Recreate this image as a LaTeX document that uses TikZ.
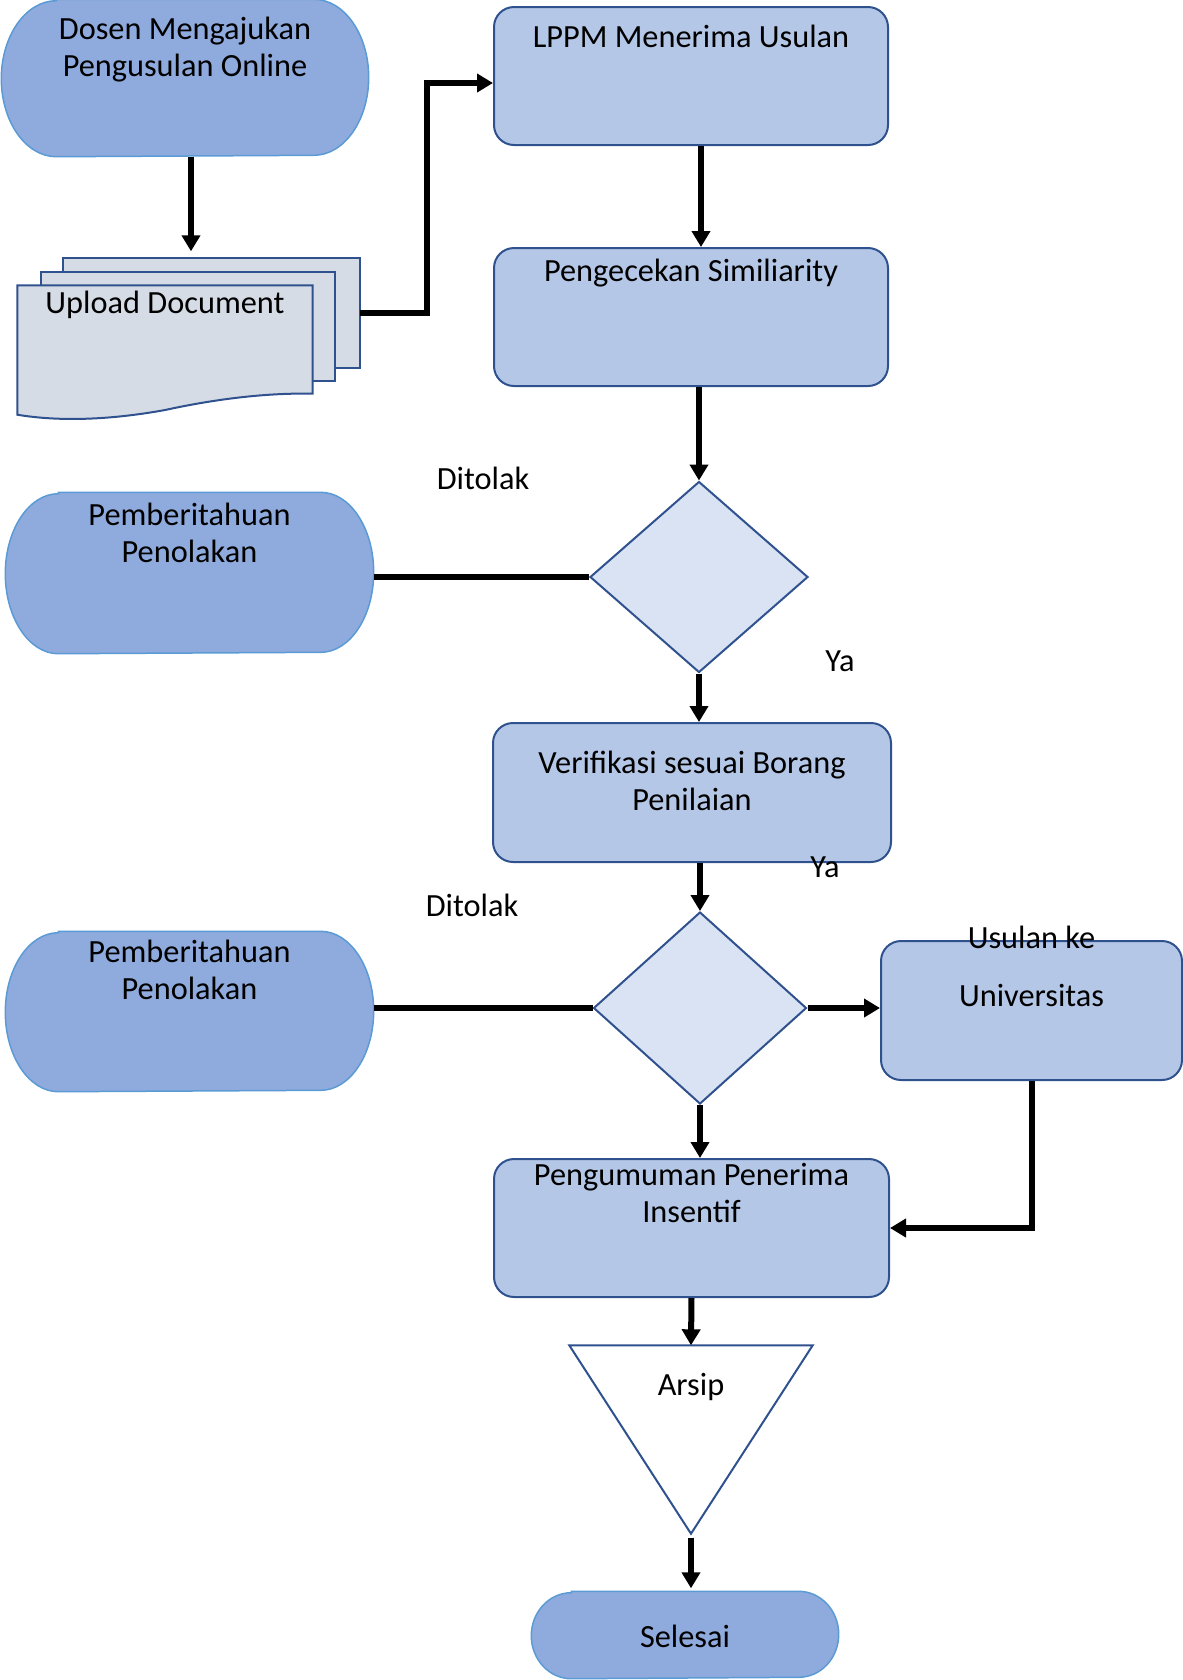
\documentclass[tikz,border=0pt]{standalone}
\usepackage{fontspec}
\setmainfont{Carlito}
\usepackage{tikz}
\usetikzlibrary{arrows.meta}
\usetikzlibrary{shapes.geometric}
\usetikzlibrary{backgrounds}

\definecolor{termfill}{HTML}{8FAADC}
\definecolor{termline}{HTML}{5B9BD5}
\definecolor{boxfill}{HTML}{B4C7E7}
\definecolor{boxline}{HTML}{2F528F}
\definecolor{decfill}{HTML}{DAE3F3}
\definecolor{docfill}{HTML}{D6DCE5}

\tikzset{
  txt/.style n args={3}{minimum width=#1, text width=#1-4mm, text height=#2, text depth=#3},
  proc/.style={rectangle, draw=boxline, fill=boxfill, line width=0.2mm, rounded corners=2mm, inner sep=0pt, align=flush center},
  term/.style={rectangle, inner sep=0pt, align=flush center},
  page/.style={rectangle, inner sep=0pt},
  dec/.style={diamond, draw=boxline, fill=decfill, line width=0.2mm, inner sep=0pt},
  docline/.style={draw=boxline, fill=docfill, line width=0.2mm},
  flow/.style={line width=0.6mm, -{Triangle[length=1.6mm,width=1.8mm]}},
  link/.style={line width=0.6mm},
  lbl/.style={anchor=base, inner sep=0pt}
}

\begin{document}
\begin{tikzpicture}[x=0.1mm, y=0.1mm, font=\fontsize{9.2}{10.8}\selectfont]
\useasboundingbox (0,0) rectangle (1183,-1680);

\node[term, txt={36.6mm}{3.9mm}{11.7mm}] (dosen) at (185,-78) {Dosen Mengajukan\\Pengusulan Online};
\node[page, minimum width=29.5mm, minimum height=10.8mm] (pg3) at (211.5,-313) {};
\node[page, minimum width=29.2mm, minimum height=10.7mm] (pg2) at (188,-326.5) {};
\node[term, txt={29.4mm}{2.7mm}{10.1mm}] (upload) at (165,-350) {Upload Document};
\node[proc, txt={39.4mm}{4mm}{9.8mm}] (lppm) at (691,-76) {LPPM Menerima Usulan};
\node[proc, txt={39.4mm}{3.3mm}{10.5mm}] (cek) at (691,-317) {Pengecekan Similiarity};
\node[dec, minimum width=21.8mm, minimum height=19.1mm] (d1) at (699,-577) {};
\node[term, txt={36.7mm}{3.2mm}{12.8mm}] (tolak1) at (189.5,-573) {Pemberitahuan\\Penolakan};
\node[proc, txt={39.8mm}{5mm}{8.9mm}] (verif) at (692,-792.5) {Verifikasi sesuai Borang\\Penilaian};
\node[dec, minimum width=21.3mm, minimum height=19.2mm] (d2) at (700,-1008) {};
\node[term, txt={36.7mm}{3mm}{12.9mm}] (tolak2) at (189.5,-1011.5) {Pemberitahuan\\Penolakan};
\node[proc, txt={30.1mm}{0.7mm}{13.2mm}] (usulan) at (1031.5,-1010.5) {Usulan ke\\[2.1mm]Universitas};
\node[proc, txt={39.5mm}{2.6mm}{11.2mm}] (umum) at (691.5,-1228) {Pengumuman Penerima\\Insentif};
\node[term, txt={24.2mm}{4.9mm}{13.8mm}] (arsip) at (691,-1439.5) {Arsip};
\node[term, txt={30.6mm}{5.5mm}{3.1mm}] (selesai) at (685,-1635) {Selesai};

\node[lbl] (tl1) at (483,-489) {Ditolak};
\node[lbl] (tl2) at (472,-916) {Ditolak};
\node[lbl] (ya1) at (840,-671) {Ya};
\node[lbl] (ya2) at (825,-877) {Ya};

\begin{scope}[on background layer]
\foreach \s/\r/\q in {dosen/5.5mm/7.8mm, tolak1/5.3mm/8mm, tolak2/5.3mm/7.95mm, selesai/4mm/4.3mm}
  \draw[termline, fill=termfill, line width=0.15mm] ([xshift=\r]\s.north west) -- ([xshift=-\r]\s.north east)
    arc[start angle=90, end angle=-90, x radius=\r, y radius=\q] -- ([xshift=\r]\s.south west)
    arc[start angle=270, end angle=90, x radius=\r, y radius=\q] -- cycle;
\draw[docline] (pg3.south west) rectangle (pg3.north east);
\draw[docline] (pg2.south west) rectangle (pg2.north east);
\draw[docline] (upload.north west) -- (upload.north east) -- ([yshift=2.1mm]upload.south east)
  .. controls +(-4.2mm,0.1mm) and +(5.5mm,1.2mm) .. (165,-410)
  .. controls +(-5.5mm,-1mm) and +(4.2mm,-0.7mm) .. (upload.south west) -- cycle;
\draw[draw=boxline, fill=white, line width=0.2mm] (arsip.north west) -- (arsip.north east) -- (arsip.south) -- cycle;
\end{scope}

\draw[flow, shorten >=0.7mm] ([xshift=0.6mm]dosen.south) -- ([xshift=0.6mm]dosen.south |- pg3.north);
\draw[flow] (pg3.east) -| ([xshift=-6.6mm, yshift=-0.7mm]lppm.west) -- ([yshift=-0.7mm]lppm.west);
\draw[flow] ([xshift=1mm]lppm.south) -- ([xshift=1mm]cek.north);
\draw[flow] (d1.north |- cek.south) -- (d1.north);
\draw[link] (tolak1.east |- d1.west) -- (d1.west);
\draw[flow] (d1.south) -- (d1.south |- verif.north);
\draw[flow] (d2.north |- verif.south) -- (d2.north);
\draw[link] (tolak2.east |- d2.west) -- (d2.west);
\draw[flow] (d2.east) -- (d2.east -| usulan.west);
\draw[flow] (d2.south) -- (d2.south |- umum.north);
\draw[flow] (usulan.south) |- (umum.east);
\draw[flow] (umum.south) -- (arsip.north);
\draw[flow, shorten <=0.4mm, shorten >=0.3mm] (arsip.south) -- (arsip.south |- selesai.north);
\end{tikzpicture}
\end{document}
